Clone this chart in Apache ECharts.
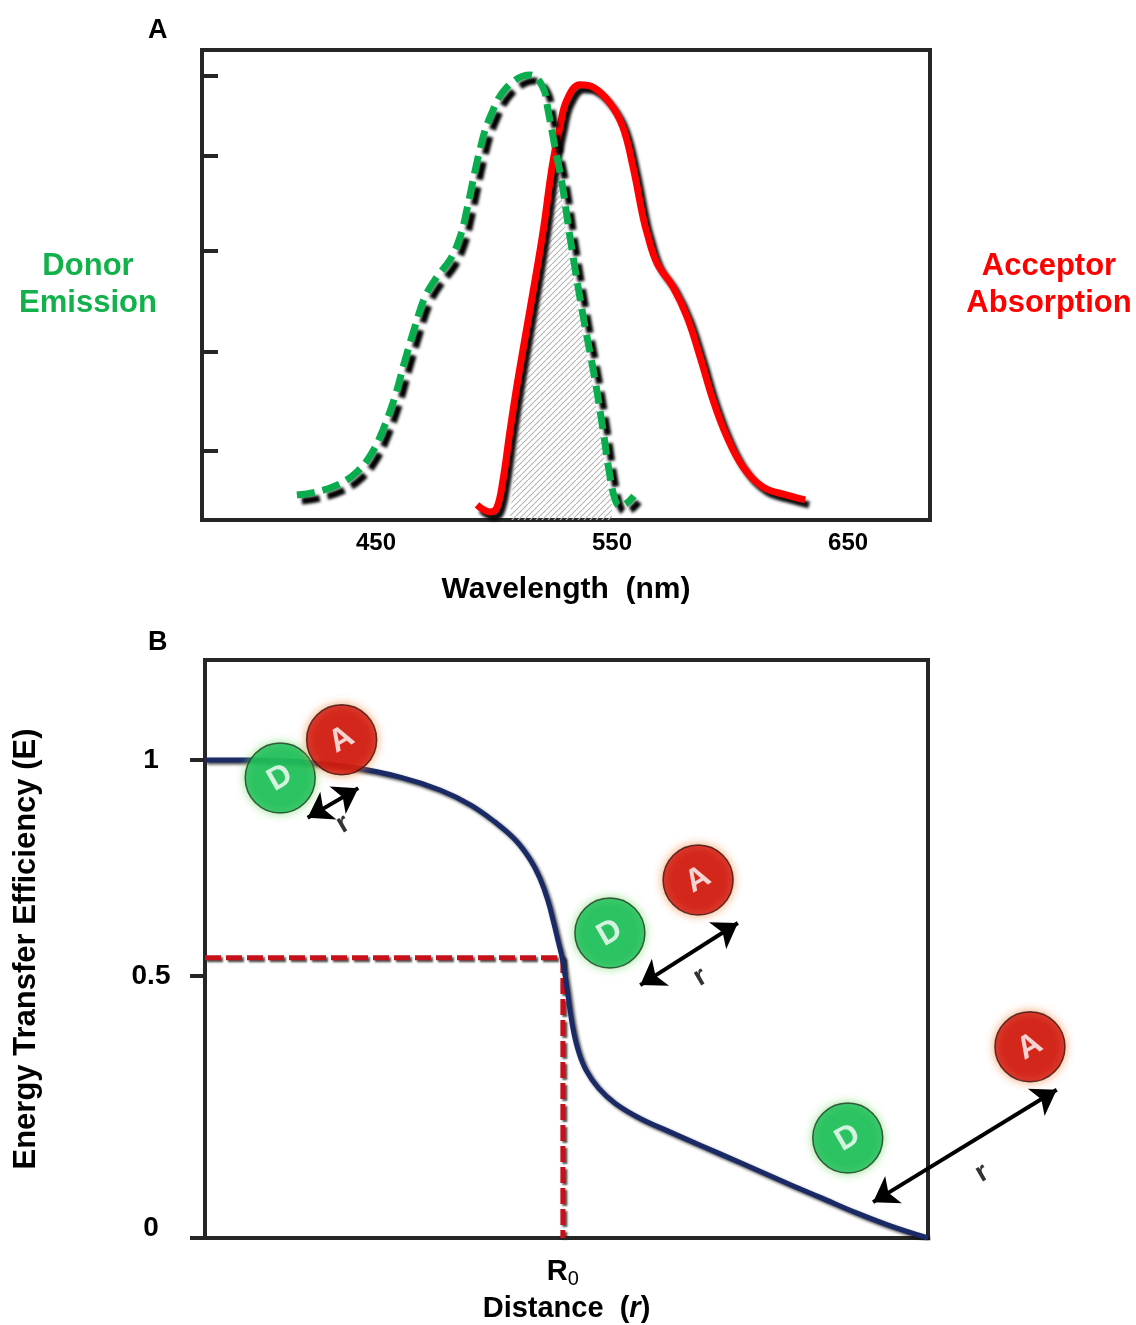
<!DOCTYPE html>
<html>
<head>
<meta charset="utf-8">
<title>FRET</title>
<style>
    html, body { margin:0; padding:0; background:#fff; }
    #main { width:1136px; height:1325px; }
</style>
</head>
<body>
<div id="main"></div>
<script src="https://cdn.jsdelivr.net/npm/echarts@6/dist/echarts.min.js"></script>
<script type="text/javascript">
// ---- panel A: spectra, [wavelength nm, relative intensity] ----
var donorEmission = [
    [416.5, 5.3], [425.0, 6.0], [433.5, 7.4], [441.9, 10.2], [448.3, 14.3], [452.9, 19.1],
    [458.0, 26.2], [462.3, 34.0], [466.5, 41.1], [470.7, 47.4], [475.8, 51.7], [481.3, 55.3],
    [485.6, 60.2], [488.5, 66.0], [494.0, 78.7], [498.3, 85.7], [505.5, 92.1], [515.2, 94.7],
    [520.7, 92.1], [522.9, 87.2], [525.8, 79.4], [528.8, 71.7], [532.2, 60.2], [537.3, 44.7],
    [542.8, 29.8], [546.2, 19.1], [548.7, 10.6], [551.3, 4.3], [553.4, 3.0], [556.3, 3.6], [559.3, 5.1]
];
var acceptorAbsorption = [
    [492.8, 3.2], [498.3, 1.7], [501.2, 2.6], [503.8, 8.5], [506.8, 19.1], [510.1, 29.8],
    [515.2, 44.7], [520.7, 61.1], [524.6, 75.1], [527.9, 83.6], [530.9, 89.4], [536.4, 92.6],
    [541.9, 92.1], [549.1, 88.7], [554.6, 83.6], [558.9, 75.1], [563.1, 64.5], [564.8, 61.1],
    [569.0, 54.7], [575.8, 49.6], [581.8, 43.2], [587.3, 34.7], [592.8, 25.5], [598.7, 17.7],
    [605.5, 11.3], [614.0, 7.0], [624.1, 5.3], [631.8, 4.3]
];
var overlap = [
    [506.7, 0], [508.5, 10.6], [510.2, 19.1], [512.3, 29.8], [517.4, 44.7], [522.4, 61.1],
    [525.4, 70.2], [527.1, 75.5], [530.9, 60.2], [536.0, 44.7], [541.5, 29.8], [544.9, 19.1],
    [547.4, 10.6], [550.0, 3.2], [550.0, 0]
];
var wlLabels = [450, 550, 650];
var intensityTicks = [14.7, 35.9, 57.2, 77.4, 94.5];

// ---- panel B: transfer efficiency vs distance ----
var efficiency = [
    [0, 1.0], [0.062, 1.0], [0.131, 0.996], [0.201, 0.985], [0.270, 0.964], [0.325, 0.937],
    [0.367, 0.906], [0.401, 0.870], [0.429, 0.833], [0.450, 0.791], [0.463, 0.753], [0.474, 0.707],
    [0.483, 0.655], [0.489, 0.617], [0.494, 0.586], [0.500, 0.530], [0.508, 0.446], [0.516, 0.393],
    [0.527, 0.351], [0.544, 0.314], [0.567, 0.282], [0.602, 0.250], [0.643, 0.222], [0.685, 0.194],
    [0.740, 0.158], [0.809, 0.112], [0.851, 0.085], [0.902, 0.052], [0.947, 0.026], [1.0, 0.0]
];
var r0Guide = [[0, 0.586], [0.495, 0.586], [0.495, 0]];
var r0Value = 0.495;
var effTicks = [0, 0.548, 1];
var effLabelPos = [0.02, 0.548, 1];
var donorPos = [[0.104, 0.962], [0.560, 0.638], [0.889, 0.209]];
var acceptorPos = [[0.189, 1.042], [0.682, 0.749], [1.141, 0.400]];
var distArrows = [
    [[0.142, 0.879], [0.212, 0.941]],
    [[0.602, 0.529], [0.737, 0.659]],
    [[0.924, 0.075], [1.178, 0.310]]
];
var rLabelPos = [[0.191, 0.866], [0.685, 0.546], [1.075, 0.136]];

var FONT = '"Liberation Sans", Arial, sans-serif';

// diagonal hatch for the overlap area
var hatch = document.createElement('canvas');
hatch.width = 6; hatch.height = 6;
var hc = hatch.getContext('2d');
hc.strokeStyle = '#b4b4b4';
hc.lineWidth = 1.1;
[-6, 0, 6].forEach(function (k) {
    hc.beginPath();
    hc.moveTo(k, 6);
    hc.lineTo(k + 6, 0);
    hc.stroke();
});

var chart = echarts.init(document.getElementById('main'));

var option = {
    backgroundColor: '#fff',
    animation: false,
    textStyle: { fontFamily: FONT },
    title: [
        { text: 'A', left: 143, top: 12, textStyle: { fontSize: 27, fontWeight: 'bold', color: '#000', fontFamily: FONT } },
        { text: 'B', left: 143, top: 624, textStyle: { fontSize: 27, fontWeight: 'bold', color: '#000', fontFamily: FONT } }
    ],
    grid: [
        { left: 202, top: 50, width: 728, height: 470, show: true, borderWidth: 4, borderColor: '#262626', backgroundColor: 'transparent' },
        { left: 205, top: 660, width: 723, height: 578, show: true, borderWidth: 4, borderColor: '#262626', backgroundColor: 'transparent' },
        // same scale as panel B, wider, for the molecule sketches that sit past the frame
        { left: 205, top: 660, width: 931, height: 578, show: false }
    ],
    xAxis: [
        {
            gridIndex: 0, type: 'value', min: 376.3, max: 684.7,
            axisLine: { show: false }, axisTick: { show: false }, splitLine: { show: false },
            axisLabel: {
                customValues: wlLabels, margin: 11,
                fontSize: 24, fontWeight: 'bold', color: '#000', fontFamily: FONT
            },
            name: 'Wavelength  (nm)', nameLocation: 'middle', nameGap: 55,
            nameTextStyle: { fontSize: 30, fontWeight: 'bold', color: '#000', fontFamily: FONT }
        },
        {
            gridIndex: 1, type: 'value', min: 0, max: 1,
            axisLine: { show: false }, axisTick: { show: false }, splitLine: { show: false },
            axisLabel: {
                customValues: [r0Value], margin: 17,
                formatter: function () { return '{b|R}{s|0}'; },
                rich: {
                    b: { fontSize: 29, fontWeight: 'bold', color: '#000', fontFamily: FONT },
                    s: { fontSize: 20, color: '#000', fontFamily: FONT, padding: [14, 0, 0, 0] }
                }
            },
            name: '{b|Distance  (}{i|r}{b|)}', nameLocation: 'middle', nameGap: 56,
            nameTextStyle: {
                rich: {
                    b: { fontSize: 29, fontWeight: 'bold', color: '#000', fontFamily: FONT },
                    i: { fontSize: 29, fontWeight: 'bold', fontStyle: 'italic', color: '#000', fontFamily: FONT }
                }
            }
        },
        { gridIndex: 2, type: 'value', min: 0, max: 931 / 723, show: false }
    ],
    yAxis: [
        {
            gridIndex: 0, type: 'value', min: 0, max: 100,
            axisLine: { show: false }, splitLine: { show: false }, axisLabel: { show: false },
            axisTick: { show: true, inside: true, length: 16, customValues: intensityTicks, lineStyle: { color: '#262626', width: 4 } },
            name: 'Donor\nEmission', nameLocation: 'middle', nameRotate: 0, nameGap: 114,
            nameTextStyle: { fontSize: 31, fontWeight: 'bold', color: '#13b14c', align: 'center', lineHeight: 37, padding: [15, 0, 0, 0], fontFamily: FONT }
        },
        {
            gridIndex: 0, type: 'value', min: 0, max: 100, position: 'right',
            axisLine: { show: false }, axisTick: { show: false }, splitLine: { show: false }, axisLabel: { show: false },
            name: 'Acceptor\nAbsorption', nameLocation: 'middle', nameRotate: 0, nameGap: 119,
            nameTextStyle: { fontSize: 31, fontWeight: 'bold', color: '#ff0000', align: 'center', lineHeight: 37, padding: [15, 0, 0, 0], fontFamily: FONT }
        },
        {
            gridIndex: 1, type: 'value', min: 0, max: 1.209,
            axisLine: { show: false }, splitLine: { show: false },
            axisTick: { show: true, length: 15, customValues: effTicks, lineStyle: { color: '#262626', width: 4 } },
            axisLabel: {
                customValues: effLabelPos, margin: 54, align: 'center',
                formatter: function (v) { return v > 0.9 ? '1' : (v > 0.3 ? '0.5' : '0'); },
                fontSize: 28, fontWeight: 'bold', color: '#000', fontFamily: FONT
            },
            name: 'Energy Transfer Efficiency (E)', nameLocation: 'middle', nameRotate: 90, nameGap: 163,
            nameTextStyle: { fontSize: 31, fontWeight: 'bold', color: '#000', fontFamily: FONT }
        },
        { gridIndex: 2, type: 'value', min: 0, max: 1.209, show: false }
    ],
    series: [
        {
            name: 'Overlap', type: 'line', xAxisIndex: 0, yAxisIndex: 0, z: 1,
            data: overlap, symbol: 'none', silent: true,
            lineStyle: { width: 0, opacity: 0 },
            areaStyle: { color: { image: hatch, repeat: 'repeat' }, opacity: 1 }
        },
        {
            name: 'Acceptor Absorption', type: 'line', xAxisIndex: 0, yAxisIndex: 0, z: 3,
            data: acceptorAbsorption, symbol: 'none', smooth: 0.4,
            lineStyle: { color: '#ff0000', width: 7, shadowColor: 'rgba(0,0,0,0.95)', shadowBlur: 3, shadowOffsetX: 4, shadowOffsetY: 5 }
        },
        {
            name: 'Donor Emission', type: 'line', xAxisIndex: 0, yAxisIndex: 0, z: 4,
            data: donorEmission, symbol: 'none', smooth: 0.4,
            lineStyle: { color: '#0aad4e', width: 7, type: [18, 8], shadowColor: 'rgba(0,0,0,1)', shadowBlur: 3, shadowOffsetX: 5, shadowOffsetY: 6 }
        },
        {
            name: 'R0 guide', type: 'line', xAxisIndex: 1, yAxisIndex: 2, z: 2,
            data: r0Guide, symbol: 'none',
            lineStyle: { color: '#c8101a', width: 5, type: [16, 5], shadowColor: 'rgba(40,40,40,0.8)', shadowBlur: 2, shadowOffsetX: 2, shadowOffsetY: 2 }
        },
        {
            name: 'Efficiency', type: 'line', xAxisIndex: 1, yAxisIndex: 2, z: 3,
            data: efficiency, symbol: 'none', smooth: 0.4,
            lineStyle: { color: '#1a2a66', width: 5, shadowColor: 'rgba(0,0,0,0.7)', shadowBlur: 3, shadowOffsetX: 2, shadowOffsetY: 2 }
        },
        {
            name: 'r', type: 'scatter', xAxisIndex: 2, yAxisIndex: 3, z: 6, clip: false, silent: true,
            data: rLabelPos, symbolSize: 1, itemStyle: { color: 'transparent' },
            label: { show: true, position: 'inside', formatter: 'r', rotate: 30, fontSize: 28, fontWeight: 'bold', color: '#000', fontFamily: FONT },
            markLine: {
                silent: true, symbol: ['arrow', 'arrow'], symbolSize: 24,
                label: { show: false },
                lineStyle: { color: '#000', width: 4, type: 'solid', opacity: 1 },
                emphasis: { disabled: true },
                data: distArrows.map(function (a) { return [{ coord: a[0] }, { coord: a[1] }]; })
            }
        },
        {
            name: 'D', type: 'scatter', xAxisIndex: 2, yAxisIndex: 3, z: 7, clip: false, silent: true,
            data: donorPos, symbolSize: 70,
            itemStyle: { color: '#0fba55', borderColor: '#1d3a22', borderWidth: 1.5, shadowColor: 'rgba(120,220,110,0.9)', shadowBlur: 8 },
            label: { show: true, position: 'inside', formatter: 'D', rotate: 30, fontSize: 32, fontWeight: 'bold', color: '#fff', fontFamily: FONT }
        },
        {
            name: 'A', type: 'scatter', xAxisIndex: 2, yAxisIndex: 3, z: 7, clip: false, silent: true,
            data: acceptorPos, symbolSize: 70,
            itemStyle: { color: '#cc0606', borderColor: '#3a1010', borderWidth: 1.5, shadowColor: 'rgba(240,140,70,0.95)', shadowBlur: 8 },
            label: { show: true, position: 'inside', formatter: 'A', rotate: 30, fontSize: 32, fontWeight: 'bold', color: '#fff', fontFamily: FONT }
        }
    ]
};

chart.setOption(option);
</script>
</body>
</html>
